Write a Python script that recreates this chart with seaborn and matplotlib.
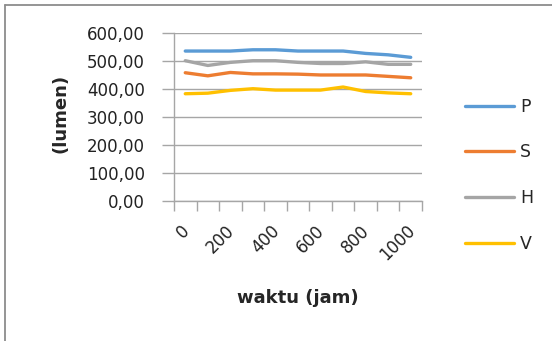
import matplotlib
matplotlib.use("Agg")
import matplotlib.pyplot as plt
from matplotlib.lines import Line2D
from matplotlib.transforms import ScaledTranslation
import pandas as pd
import seaborn as sns

# Measurement hours and lumen readings per lamp type
waktu = [0, 100, 200, 300, 400, 500, 600, 700, 800, 900, 1000]
P = [534.5, 534.5, 534.5, 539, 539, 534.5, 534.5, 534.5, 526, 521, 512]
S = [457, 446, 458, 453, 453, 452, 449, 449, 449, 444, 439]
H = [500, 483, 494, 500, 500, 494, 490, 490, 496, 487, 487]
V = [382, 384, 394, 400, 395, 395, 395, 406, 390, 385, 382]
series_names = ["P", "S", "H", "V"]
colors = ["#5B9BD5", "#ED7D31", "#A5A5A5", "#FFC000"]
y_ticks = [0, 100, 200, 300, 400, 500, 600]
x_labels = [0, 200, 400, 600, 800, 1000]

df = pd.DataFrame({"waktu": waktu, "P": P, "S": S, "H": H, "V": V})
long = df.melt(id_vars="waktu", var_name="seri", value_name="lumen")

sns.set_style("white")
plt.rcParams["font.family"] = ["DejaVu Sans"]

fig = plt.figure(figsize=(5.52, 3.41), dpi=100)
ax = fig.add_axes([174 / 552, 1 - 200.7 / 341, 248 / 552, 168 / 341])

sns.lineplot(data=long, x="waktu", y="lumen", hue="seri", hue_order=series_names,
             palette=colors, linewidth=2.4, ax=ax, legend=True)

ax.set_xlim(-50, 1050)
ax.set_ylim(0, 600)

grid_c = "#A6A6A6"
ax.set_yticks(y_ticks)
ax.set_yticklabels([f"{v:.2f}".replace(".", ",") for v in y_ticks])
ax.yaxis.grid(True, color=grid_c, linewidth=1.0)
ax.set_axisbelow(True)
ax.tick_params(axis="y", length=9, width=1.0, color=grid_c, pad=12,
               labelsize=12, labelcolor="#222222", left=True)

# category boundaries carry the tick marks, labels sit on every other category
ax.set_xticks([w - 50 for w in waktu] + [1050], minor=True)
ax.set_xticks(x_labels)
ax.set_xticklabels([str(v) for v in x_labels], rotation=45, ha="right",
                   va="top", rotation_mode="anchor")
ax.tick_params(axis="x", which="major", length=0, pad=15, labelsize=12,
               labelcolor="#222222")
ax.tick_params(axis="x", which="minor", length=7, width=1.0, color=grid_c,
               bottom=True)
shift = ScaledTranslation(-5 / 100, 0, fig.dpi_scale_trans)
for lbl in ax.get_xticklabels():
    lbl.set_transform(lbl.get_transform() + shift)

for side in ["top", "right"]:
    ax.spines[side].set_visible(False)
for side in ["left", "bottom"]:
    ax.spines[side].set_color(grid_c)
    ax.spines[side].set_linewidth(1.0)

ax.set_xlabel("waktu (jam)", fontsize=13, fontweight="bold")
ax.set_ylabel("(lumen)", fontsize=13, fontweight="bold")
ax.xaxis.set_label_coords(0.5, (201 - 289) / 168)
ax.yaxis.set_label_coords((70 - 174) / 248, (201 - 114) / 168)

handles, labels = ax.get_legend_handles_labels()
ax.legend(handles, labels, loc="upper left", bbox_to_anchor=(449 / 552, 1 - 82 / 341),
          bbox_transform=fig.transFigure, frameon=False, fontsize=12.5,
          handlelength=2.85, handletextpad=0.35, labelspacing=1.6)

# outer chart border (left and top edges)
fig.add_artist(Line2D([4.5 / 552, 4.5 / 552], [0, 1 - 5 / 341],
                      transform=fig.transFigure, color="#8C8C8C", linewidth=1.3))
fig.add_artist(Line2D([4.5 / 552, 1], [1 - 5 / 341, 1 - 5 / 341],
                      transform=fig.transFigure, color="#8C8C8C", linewidth=1.3))

fig.savefig("out.png", dpi=100)
